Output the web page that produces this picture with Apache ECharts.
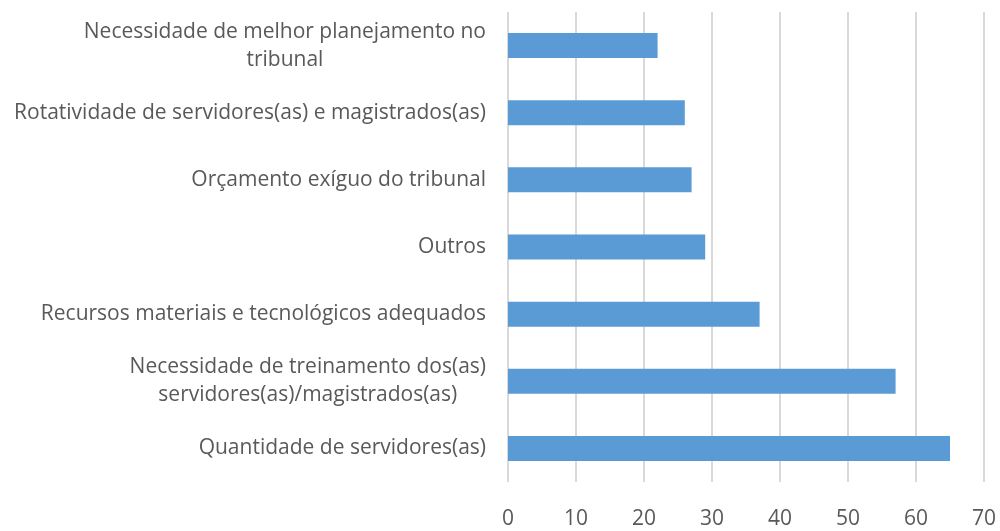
<!DOCTYPE html>
<html>
<head>
<meta charset="utf-8">
<script src="https://cdn.jsdelivr.net/npm/echarts@6/dist/echarts.min.js"></script>
<style>
  html, body { margin: 0; padding: 0; background: #fff; }
  #chart { width: 1000px; height: 531px; }
</style>
</head>
<body>
<div id="chart"></div>
<script>
// categorias (de cima para baixo)
var categories = [
    'Necessidade de melhor planejamento no\ntribunal',
    'Rotatividade de servidores(as) e magistrados(as)',
    'Orçamento exíguo do tribunal',
    'Outros',
    'Recursos materiais e tecnológicos adequados',
    'Necessidade de treinamento dos(as)\nservidores(as)/magistrados(as)',
    'Quantidade de servidores(as)'
];
var values = [22, 26, 27, 29, 37, 57, 65];
var xTicks = [0, 10, 20, 30, 40, 50, 60, 70];

var myChart = echarts.init(document.getElementById('chart'));
var font = '"Open Sans", sans-serif';

myChart.setOption({
    animation: false,
    grid: {
        top: 12,
        left: 508,
        right: 16,
        bottom: 49,
        containLabel: false
    },
    xAxis: {
        type: 'value',
        min: xTicks[0],
        max: xTicks[xTicks.length - 1],
        interval: 10,
        axisLine: { show: false },
        axisTick: { show: false },
        axisLabel: {
            color: '#595959',
            fontSize: 21,
            fontFamily: font,
            margin: 27
        },
        splitLine: {
            show: true,
            lineStyle: { color: '#d9d9d9', width: 2 }
        }
    },
    yAxis: {
        type: 'category',
        data: categories,
        inverse: true,
        axisLine: { show: false },
        axisTick: { show: false },
        axisLabel: {
            margin: 22,
            formatter: function (v) {
                return v.split('\n').map(function (s) { return '{c|' + s + '}'; }).join('\n');
            },
            rich: {
                c: {
                    color: '#595959',
                    fontSize: 21,
                    fontFamily: font,
                    lineHeight: 28,
                    align: 'center'
                }
            }
        }
    },
    series: [{
        type: 'bar',
        data: values,
        barWidth: 25,
        itemStyle: { color: '#5b9bd5' }
    }]
});
</script>
</body>
</html>
